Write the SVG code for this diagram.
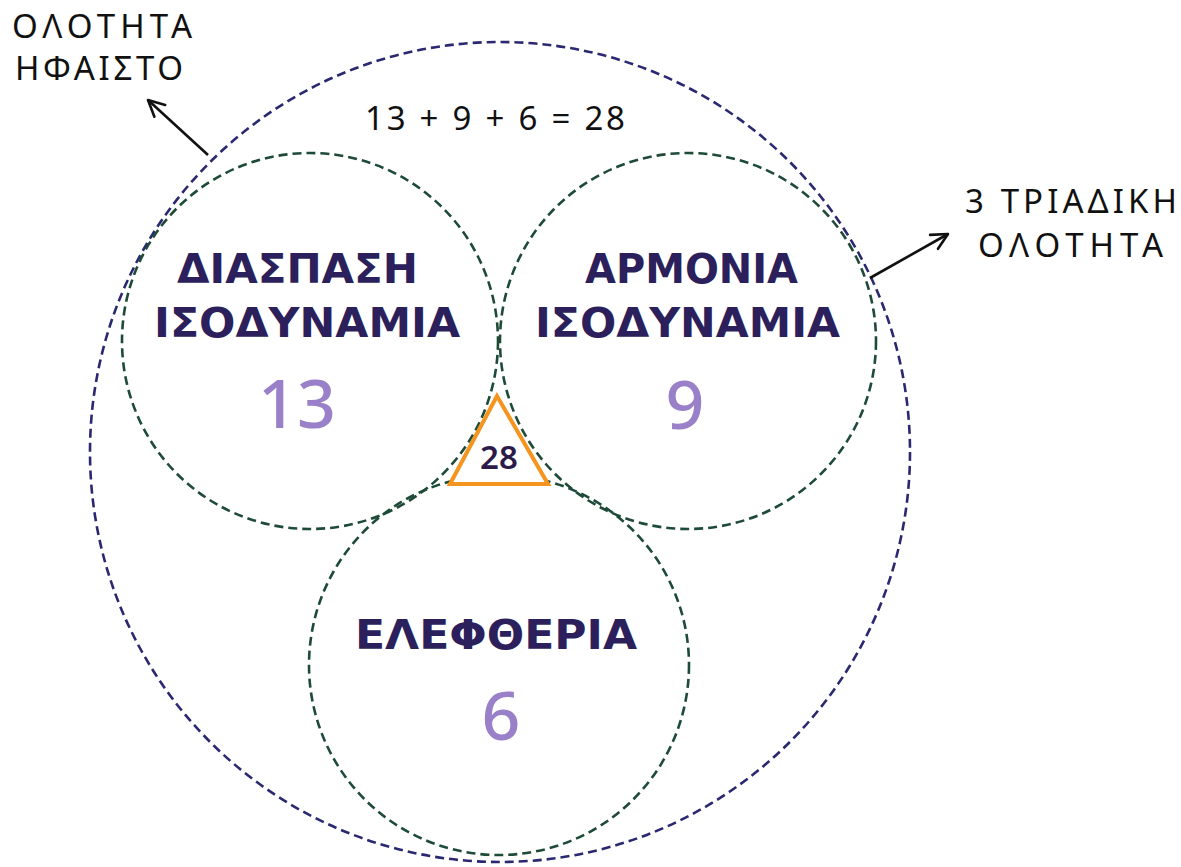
<svg xmlns="http://www.w3.org/2000/svg" width="1181" height="867" viewBox="0 0 1181 867">
<defs>
<marker id="arr" viewBox="0 0 20 20" refX="18" refY="10" markerWidth="20" markerHeight="20" markerUnits="userSpaceOnUse" orient="auto">
<path d="M2,2 L18,10 L2,18" fill="none" stroke="#111" stroke-width="2.6" stroke-linecap="round" stroke-linejoin="round"/>
</marker>
<style>
.outer{fill:none;stroke:#2a2870;stroke-width:2.6;stroke-dasharray:9 5}
.inner{fill:none;stroke:#1e4a38;stroke-width:2.6;stroke-dasharray:9 5}
.lbl{font-family:"DejaVu Sans","Noto Sans",sans-serif;font-weight:700;fill:#2b1f5c;font-size:40px}
.num{font-family:"Noto Sans","DejaVu Sans",sans-serif;font-weight:500;fill:#9a80c8;font-size:68px;text-anchor:middle}
.cap{font-family:"Noto Sans","DejaVu Sans",sans-serif;fill:#111;font-size:33px}
.conn{fill:none;stroke:#111;stroke-width:2.6}
</style>
</defs>
<rect width="1181" height="867" fill="#ffffff"/>
<g id="outer-circle"><circle class="outer" cx="500" cy="452" r="410"/></g>
<g id="equation"><text x="365" y="130" class="cap" font-size="36" textLength="260" lengthAdjust="spacing">13 + 9 + 6 = 28</text></g>
<g id="node-diaspasi">
<circle class="inner" cx="310" cy="341" r="188"/>
<text x="177" y="283" class="lbl" textLength="241" lengthAdjust="spacingAndGlyphs">ΔΙΑΣΠΑΣΗ</text>
<text x="154" y="337" class="lbl" textLength="306" lengthAdjust="spacingAndGlyphs">ΙΣΟΔΥΝΑΜΙΑ</text>
<text x="297" y="428" class="num">13</text>
</g>
<g id="node-armonia">
<circle class="inner" cx="688" cy="341" r="188"/>
<text x="585" y="283" class="lbl" textLength="213" lengthAdjust="spacingAndGlyphs">ΑΡΜΟΝΙΑ</text>
<text x="535" y="337" class="lbl" textLength="305" lengthAdjust="spacingAndGlyphs">ΙΣΟΔΥΝΑΜΙΑ</text>
<text x="685" y="429" class="num">9</text>
</g>
<g id="node-eleftheria">
<circle class="inner" cx="499" cy="665" r="190"/>
<text x="355" y="649" class="lbl" textLength="282" lengthAdjust="spacingAndGlyphs">ΕΛΕΦΘΕΡΙΑ</text>
<text x="501" y="740" class="num">6</text>
</g>
<g id="node-28">
<polygon points="497,396 450,484 548,484" fill="#ffffff" stroke="#f5941f" stroke-width="4" stroke-linejoin="miter"/>
<text x="499" y="469" font-family="Noto Sans, DejaVu Sans, sans-serif" font-weight="600" font-size="33" fill="#2b1a4a" text-anchor="middle">28</text>
</g>
<g id="label-hfaisto">
<text x="12" y="38" class="cap" font-size="30" textLength="180" lengthAdjust="spacing">ΟΛΟΤΗΤΑ</text>
<text x="15" y="80" class="cap" font-size="30" textLength="168" lengthAdjust="spacing">ΗΦΑΙΣΤΟ</text>
</g>
<g id="label-triadiki">
<text x="965" y="213" class="cap" textLength="212" lengthAdjust="spacing">3 ΤΡΙΑΔΙΚΗ</text>
<text x="978" y="257" class="cap" textLength="185" lengthAdjust="spacing">ΟΛΟΤΗΤΑ</text>
</g>
<g id="connectors">
<line class="conn" x1="208" y1="155" x2="148" y2="100" marker-end="url(#arr)"/>
<line class="conn" x1="870" y1="278" x2="948" y2="234" marker-end="url(#arr)"/>
</g>
</svg>
